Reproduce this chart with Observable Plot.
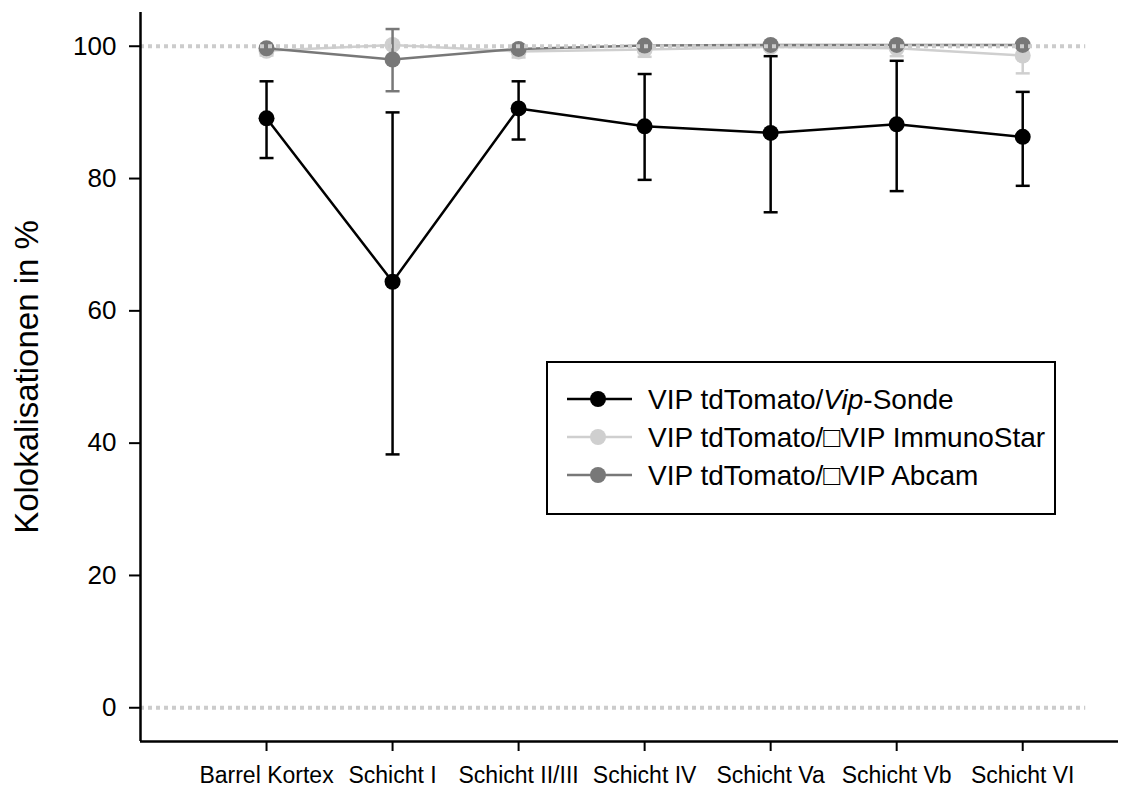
<!DOCTYPE html>
<html>
<head>
<meta charset="utf-8">
<script src="https://cdn.jsdelivr.net/npm/d3@7"></script>
<script src="https://cdn.jsdelivr.net/npm/@observablehq/plot@0.6"></script>
<style>
  html, body { margin: 0; padding: 0; background: #fff; }
  #chart { position: relative; width: 1141px; height: 789px; }
</style>
</head>
<body>
<div id="chart"></div>
<script>
// ---- data ----
const categories = ["Barrel Kortex", "Schicht I", "Schicht II/III", "Schicht IV", "Schicht Va", "Schicht Vb", "Schicht VI"];
const seriesNames = ["VIP tdTomato/Vip-Sonde", "VIP tdTomato/\u25A1VIP ImmunoStar", "VIP tdTomato/\u25A1VIP Abcam"];
const seriesColors = ["#000000", "#cfcfcf", "#787878"];

const sondeMean  = [89.1, 64.4, 90.6, 87.9, 86.9, 88.2, 86.3];
const sondeLow   = [83.1, 38.3, 85.9, 79.8, 74.9, 78.1, 78.9];
const sondeHigh  = [94.7, 90.0, 94.7, 95.8, 98.5, 97.8, 93.1];

const immunoMean = [99.3, 100.2, 99.2, 99.5, 99.9, 99.7, 98.6];
const immunoLow  = [98.6, 100.2, 98.3, 98.4, 99.5, 98.5, 95.9];
const immunoHigh = [100.0, 100.2, 100.1, 100.3, 100.3, 100.4, 100.4];

const abcamMean  = [99.7, 98.0, 99.6, 100.1, 100.2, 100.2, 100.2];
const abcamLow   = [99.6, 93.2, 99.5, 100.0, 100.1, 100.1, 100.1];
const abcamHigh  = [99.8, 102.6, 99.7, 100.2, 100.3, 100.3, 100.3];

const referenceLines = [0, 100];
const yTicks = [0, 20, 40, 60, 80, 100];
const yTitle = "Kolokalisationen in %";

// ---- build ----
const means = [sondeMean, immunoMean, abcamMean];
const lows = [sondeLow, immunoLow, abcamLow];
const highs = [sondeHigh, immunoHigh, abcamHigh];
const series = seriesNames.map((name, s) => ({
  name, color: seriesColors[s],
  rows: categories.map((c, i) => ({i, cat: c, mean: means[s][i], low: lows[s][i], high: highs[s][i]}))
}));

const xDomain = [-1, 6.76];
const yDomain = [-5.1, 105.1];
const capSymbol = {draw(ctx, size) { const r = Math.sqrt(size / Math.PI); ctx.moveTo(-r, 0); ctx.lineTo(r, 0); }};

const marks = [];
for (const s of series) {
  marks.push(Plot.ruleX(s.rows, {x: "i", y1: "low", y2: "high", stroke: s.color, strokeWidth: 2.5}));
  marks.push(Plot.dot(s.rows, {x: "i", y: "high", symbol: capSymbol, r: 7, stroke: s.color, strokeWidth: 2.5, fill: "none"}));
  marks.push(Plot.dot(s.rows, {x: "i", y: "low", symbol: capSymbol, r: 7, stroke: s.color, strokeWidth: 2.5, fill: "none"}));
  marks.push(Plot.line(s.rows, {x: "i", y: "mean", stroke: s.color, strokeWidth: 2.5}));
  marks.push(Plot.dot(s.rows, {x: "i", y: "mean", r: 8, fill: s.color, stroke: "none"}));
}

const chart = Plot.plot({
  width: 1141,
  height: 789,
  marginLeft: 140,
  marginRight: 23,
  marginTop: 12,
  marginBottom: 48,
  style: {fontFamily: "'Liberation Sans', Arial, sans-serif", background: "#fff", color: "#000"},
  x: {type: "linear", domain: xDomain, label: null},
  y: {domain: yDomain, label: null},
  marks: [
    ...marks,
    Plot.ruleY(referenceLines, {x1: -1, x2: 6.5, stroke: "#cccccc", strokeWidth: 4, strokeDasharray: "4,4"}),
    Plot.ruleX([xDomain[0]], {stroke: "#000", strokeWidth: 2.5}),
    Plot.ruleY([yDomain[0]], {stroke: "#000", strokeWidth: 2.5}),
    Plot.axisY({ticks: yTicks, tickSize: 11, tickPadding: 13, fontSize: 26, strokeWidth: 2, label: null}),
    Plot.axisX({ticks: d3.range(categories.length), tickFormat: i => categories[i], tickSize: 10, tickPadding: 15, fontSize: 23, strokeWidth: 2, label: null})
  ]
});

document.getElementById("chart").append(chart);

// ---- y title & legend ----
const svg = d3.select(chart);
svg.append("text")
  .attr("transform", "translate(38,377) rotate(-90)")
  .attr("text-anchor", "middle")
  .attr("font-size", 33)
  .attr("fill", "#000")
  .text(yTitle);

const lg = svg.append("g").attr("transform", "translate(547,362)").attr("text-anchor", "start");
lg.append("rect").attr("width", 508).attr("height", 152).attr("fill", "#fff").attr("stroke", "#000").attr("stroke-width", 2);
series.forEach((s, k) => {
  const y = 37 + k * 38;
  lg.append("line").attr("x1", 20).attr("x2", 85).attr("y1", y).attr("y2", y).attr("stroke", s.color).attr("stroke-width", 2.5);
  lg.append("circle").attr("cx", 51).attr("cy", y).attr("r", 8).attr("fill", s.color);
  const t = lg.append("text").attr("x", 101).attr("y", y).attr("dy", "0.36em").attr("font-size", 28).attr("fill", "#000").attr("text-anchor", "start");
  if (k === 0) {
    t.append("tspan").text("VIP tdTomato/");
    t.append("tspan").attr("font-style", "italic").text("Vip");
    t.append("tspan").text("-Sonde");
  } else {
    t.text(s.name);
  }
});
</script>
</body>
</html>
